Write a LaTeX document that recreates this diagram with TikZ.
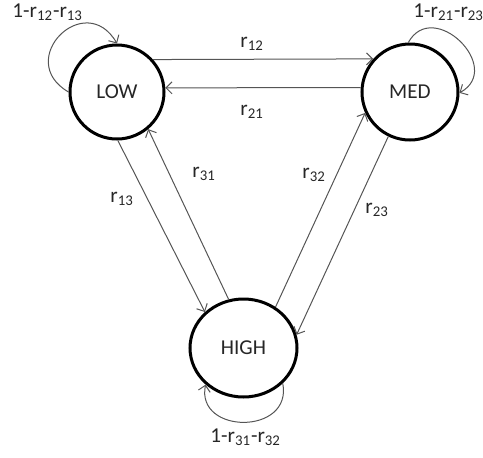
\documentclass[tikz,border=0pt]{standalone}
\usepackage{fontspec}
\setmainfont{Carlito}
\usetikzlibrary{arrows.meta,shapes.geometric}
\definecolor{stblack}{RGB}{0,0,0}
\definecolor{trgray}{RGB}{85,85,85}
\definecolor{txgray}{RGB}{38,38,38}
\tikzset{
  stnode/.style={draw=stblack, circle, line width=1.5pt, minimum size=#1,
                 inner sep=0pt, font=\fontsize{10.6pt}{12pt}\selectfont, text=txgray},
  sthigh/.style={draw=stblack, ellipse, line width=1.5pt, minimum width=53.5pt,
                 minimum height=49pt, inner sep=0pt,
                 font=\fontsize{10.6pt}{12pt}\selectfont, text=txgray},
  trans/.style={draw=trgray, line width=0.5pt,
                -{Straight Barb[length=3pt,width=6pt]}},
  rlabel/.style={anchor=base west, inner sep=0pt, text=txgray,
                 font=\fontsize{10.6pt}{12pt}\selectfont},
}

\begin{document}
\begin{tikzpicture}[x=0.5pt, y=-0.5pt]
\useasboundingbox (0,0) rectangle (483,457);
% States
\node[stnode=47pt] (LOW) at (117,92) {LOW};
\node[stnode=48pt] (MED) at (410,92) {MED};
\node[sthigh] (HIGH) at (243.5,348) {HIGH};
% Transitions between states
\draw[trans] (LOW.42) -- (MED.138);
\draw[trans] (MED.175) -- (LOW.5);
\draw[trans] (LOW.-89) -- (HIGH.137);
\draw[trans] (HIGH.107) -- (LOW.-50);
\draw[trans] (HIGH.52) -- (MED.205);
\draw[trans] (MED.244) -- (HIGH.14);
% Self loops
\draw[trans] (LOW.180) .. controls +(-55,-32) and +(-32,-55) .. (LOW.90);
\draw[trans] (MED.92) .. controls +(25,-45) and +(45,-25) .. (MED.-1);
\draw[trans] (HIGH.-42) .. controls +(10,52) and +(-10,50) .. (HIGH.-136);
% Rates
\node[rlabel] (r12) at (240,47) {r\textsubscript{12}};
\node[rlabel] (r21) at (240,115) {r\textsubscript{21}};
\node[rlabel] (r13) at (110,202) {r\textsubscript{13}};
\node[rlabel] (r31) at (192,177) {r\textsubscript{31}};
\node[rlabel] (r32) at (302,178) {r\textsubscript{32}};
\node[rlabel] (r23) at (365,213) {r\textsubscript{23}};
\node[rlabel] (rLOW) at (12,17) {1-r\textsubscript{12}-r\textsubscript{13}};
\node[rlabel] (rMED) at (413,17) {1-r\textsubscript{21}-r\textsubscript{23}};
\node[rlabel] (rHIGH) at (210,442) {1-r\textsubscript{31}-r\textsubscript{32}};
\end{tikzpicture}
\end{document}
